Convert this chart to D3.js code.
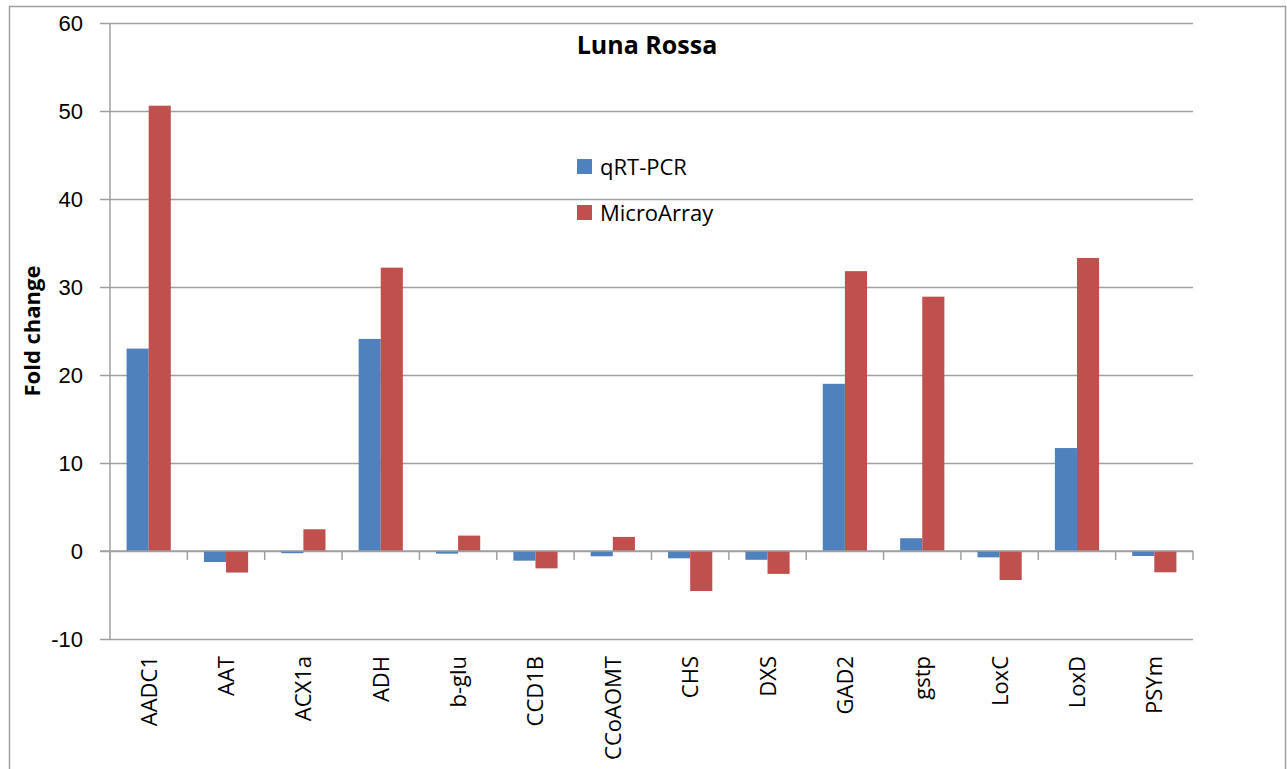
<!DOCTYPE html>
<html>
<head>
<meta charset="utf-8">
<script src="https://cdn.jsdelivr.net/npm/d3@7"></script>
<style>
  html, body { margin: 0; padding: 0; background: #fff; overflow: hidden; }
  svg { display: block; font-family: "Open Sans", "Liberation Sans", sans-serif; }
</style>
</head>
<body>
<svg id="chart" width="1287" height="769"></svg>
<script>
// Gene names along the x axis
const genes = ["AADC1", "AAT", "ACX1a", "ADH", "b-glu", "CCD1B", "CCoAOMT",
               "CHS", "DXS", "GAD2", "gstp", "LoxC", "LoxD", "PSYm"];
// Fold change measured by qRT-PCR
const qrtPcr = [23.0, -1.25, -0.25, 24.1, -0.3, -1.1, -0.6,
                -0.83, -1.0, 19.0, 1.45, -0.72, 11.7, -0.57];
// Fold change measured by microarray
const microArray = [50.6, -2.45, 2.47, 32.2, 1.75, -1.97, 1.6,
                    -4.55, -2.6, 31.8, 28.9, -3.3, 33.3, -2.42];
const seriesNames = ["qRT-PCR", "MicroArray"];
const seriesColors = ["#4f81bd", "#c0504d"];
const yTicks = [-10, 0, 10, 20, 30, 40, 50, 60];

const svg = d3.select("#chart");
const plotLeft = 110, plotRight = 1193, plotTop = 23, plotBottom = 639;
const gridColor = "#a0a0a0";

// Outer chart frame
svg.append("rect")
  .attr("x", 9.5).attr("y", 6.5).attr("width", 1276).attr("height", 780)
  .attr("fill", "#fff").attr("stroke", gridColor).attr("stroke-width", 1.5);

const y = d3.scaleLinear().domain([-10, 60]).range([plotBottom, plotTop]);
const x = d3.scaleBand().domain(genes).range([plotLeft, plotRight]);
const inner = d3.scaleBand().domain(seriesNames).range([0, x.bandwidth()])
  .paddingInner(0).paddingOuter(0.75);

// Horizontal gridlines with tick labels
const yAxis = d3.axisLeft(y).tickValues(yTicks).tickSize(0).tickPadding(17)
  .tickFormat(d => d < 0 ? "-" + Math.abs(d) : String(d));
const gy = svg.append("g").attr("transform", `translate(${plotLeft - 10},0)`)
  .call(yAxis);
gy.select(".domain").remove();
gy.selectAll(".tick line").attr("stroke", gridColor).attr("stroke-width", 1.5)
  .attr("x1", 0).attr("x2", plotRight - plotLeft + 10);
gy.selectAll(".tick text").attr("font-size", 22).attr("fill", "#000")
  .attr("text-anchor", "end").attr("x", -17).attr("dy", "0.36em");

// Vertical axis line
svg.append("line").attr("x1", plotLeft).attr("x2", plotLeft).attr("y1", plotTop).attr("y2", plotBottom)
  .attr("stroke", gridColor).attr("stroke-width", 1.5);

// Bars
const data = genes.map((g, i) => ({ gene: g, values: [qrtPcr[i], microArray[i]] }));
const groups = svg.append("g").selectAll("g").data(data).join("g")
  .attr("transform", d => `translate(${x(d.gene)},0)`);
groups.selectAll("rect")
  .data(d => d.values.map((v, j) => ({ v, name: seriesNames[j], color: seriesColors[j] })))
  .join("rect")
  .attr("x", d => inner(d.name))
  .attr("width", inner.bandwidth())
  .attr("y", d => y(Math.max(0, d.v)))
  .attr("height", d => Math.abs(y(d.v) - y(0)))
  .attr("fill", d => d.color);

// Category axis at zero with ticks between categories
const gx = svg.append("g").attr("transform", `translate(0,${y(0)})`);
gx.append("line").attr("x1", plotLeft - 10).attr("x2", plotRight).attr("stroke", gridColor).attr("stroke-width", 1.5);
const bounds = genes.map(g => x(g)).concat([plotRight]);
gx.selectAll("line.tk").data(bounds).join("line").attr("class", "tk")
  .attr("x1", d => d).attr("x2", d => d).attr("y1", 0).attr("y2", 9)
  .attr("stroke", gridColor).attr("stroke-width", 1.5);

// Rotated gene labels below the plot
svg.append("g").selectAll("text").data(genes).join("text")
  .attr("transform", d => `translate(${x(d) + x.bandwidth() / 2 + 8},${plotBottom + 17}) rotate(-90)`)
  .attr("text-anchor", "end")
  .attr("font-size", 22)
  .attr("fill", "#000")
  .text(d => d);

// Title
svg.append("text").attr("x", 647).attr("y", 54).attr("text-anchor", "middle")
  .attr("font-size", 25).attr("font-weight", "bold").attr("fill", "#000")
  .text("Luna Rossa");

// Y axis title
svg.append("text").attr("transform", `translate(40,331) rotate(-90)`)
  .attr("text-anchor", "middle").attr("font-size", 22).attr("font-weight", "bold")
  .attr("fill", "#000").text("Fold change");

// Legend
const legend = svg.append("g").selectAll("g").data(seriesNames).join("g")
  .attr("transform", (d, i) => `translate(577,${159 + i * 46})`);
legend.append("rect").attr("width", 15).attr("height", 15)
  .attr("fill", (d, i) => seriesColors[i]);
legend.append("text").attr("x", 23).attr("y", 16).attr("font-size", 22).attr("fill", "#000")
  .text(d => d);
</script>
</body>
</html>
